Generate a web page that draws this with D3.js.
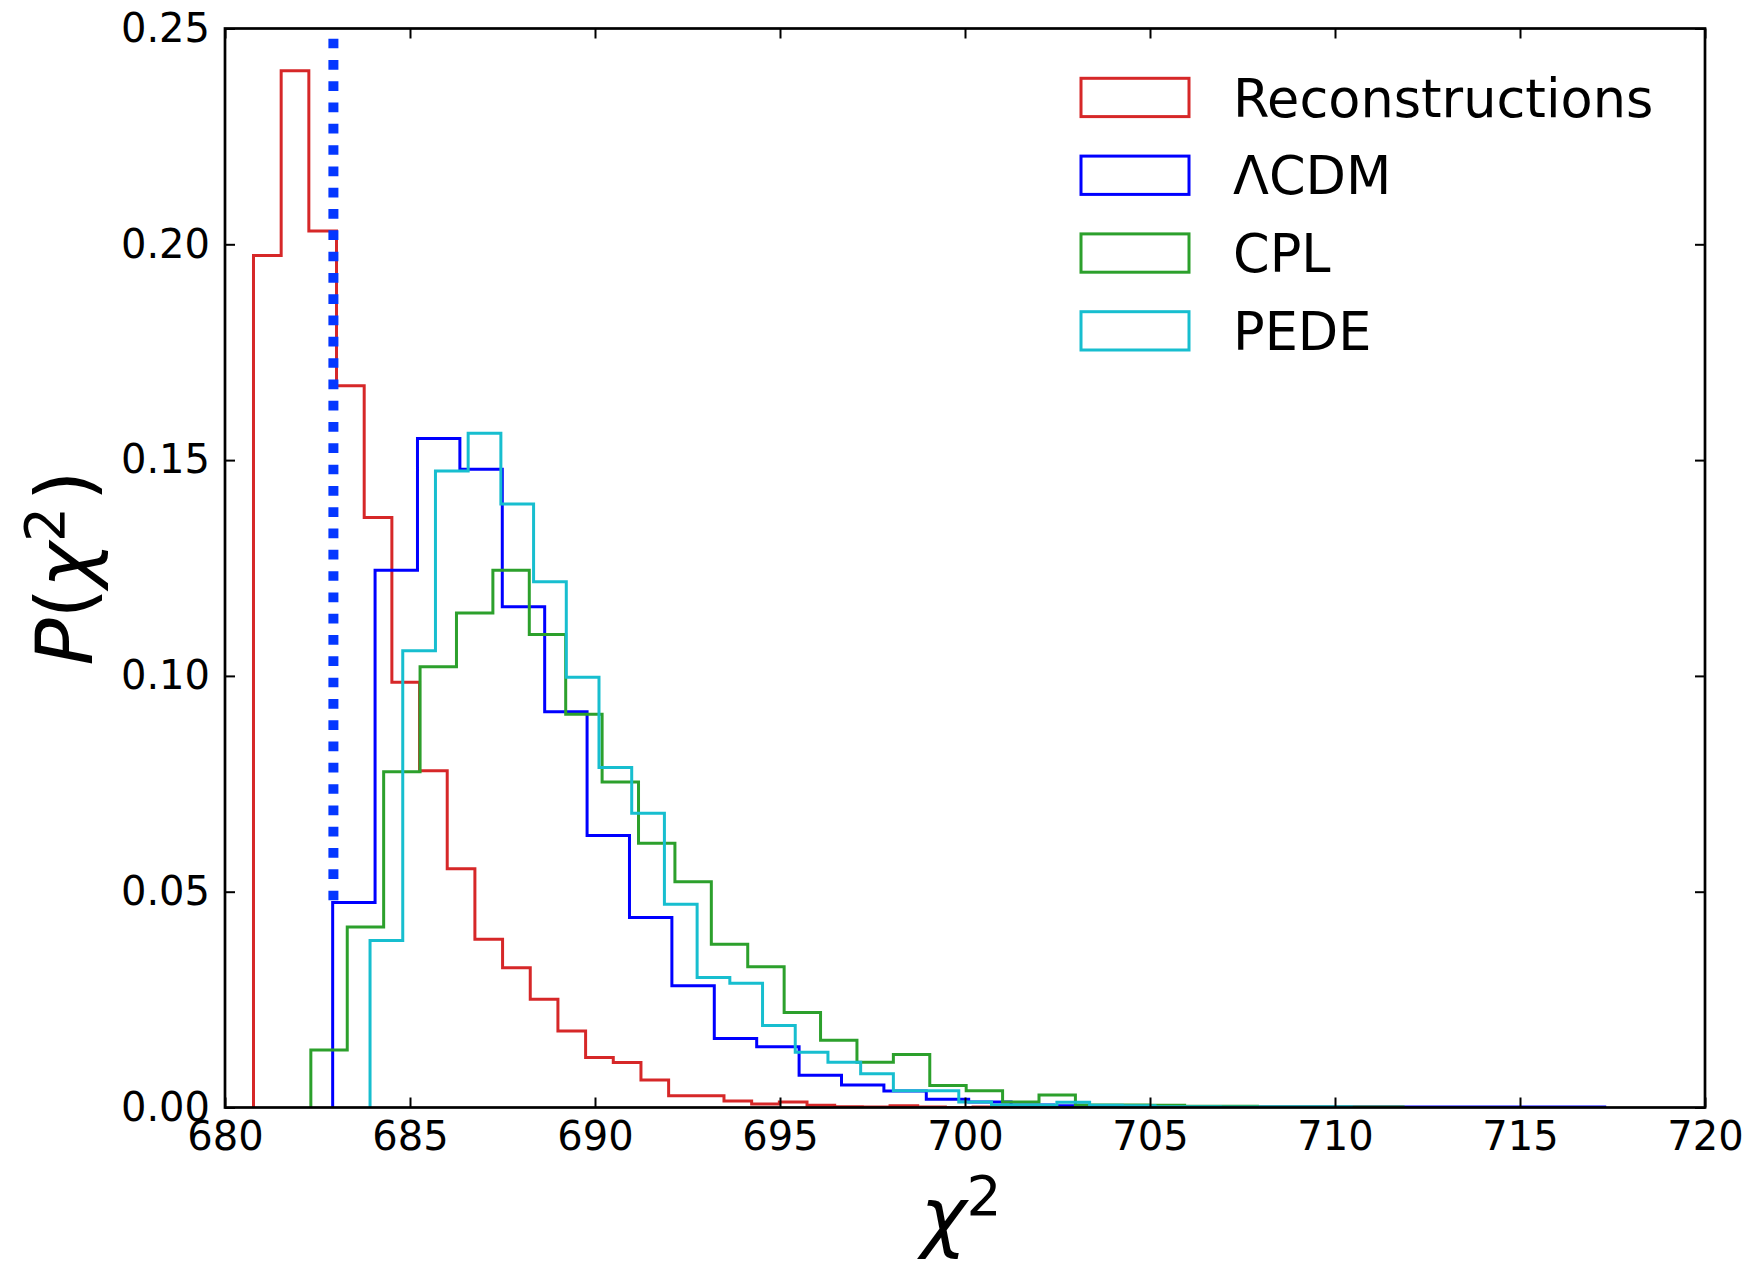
<!DOCTYPE html>
<html lang="en">
<head>
<meta charset="UTF-8">
<title>P(chi2) histograms</title>
<script src="https://d3js.org/d3.v7.min.js"></script>
<style>
  body { margin: 0; background: #fff; }
  svg { display: block; font-family: "DejaVu Sans", sans-serif; }
</style>
</head>
<body>
<svg id="chart" width="1750" height="1261"></svg>
<script>
// each histogram: left edge of the first bin, bin width, normalised counts
const reconStart = 680.77, reconWidth = 0.748;
const reconP = [0.1974, 0.2402, 0.2031, 0.1672, 0.1367, 0.0985, 0.0780, 0.0553, 0.0390, 0.0324,
                0.0251, 0.0177, 0.0116, 0.0104, 0.0064, 0.0027, 0.0027, 0.0015, 0.0008, 0.0013,
                0.0005, 0.0002, 0.0001, 0.0004, 0.0001, 0.0000, 0.0001, 0.0000, 0.0000, 0.0001];

const lcdmStart = 682.91, lcdmWidth = 1.146;
const lcdmP = [0.0475, 0.1245, 0.1550, 0.1479, 0.1160, 0.0917, 0.0630, 0.0440, 0.0282, 0.0160,
               0.0141, 0.0075, 0.0052, 0.0038, 0.0019, 0.0013, 0.0006, 0.0004, 0.0002, 0.0002,
               0.0001, 0.0001, 0.0001, 0.0001, 0.0001, 0.0001, 0.0001, 0.0001, 0.0001, 0.0001];

const cplStart = 682.32, cplWidth = 0.984;
const cplP = [0.0133, 0.0418, 0.0778, 0.1021, 0.1146, 0.1245, 0.1096, 0.0911, 0.0754, 0.0612,
              0.0523, 0.0378, 0.0326, 0.0220, 0.0156, 0.0105, 0.0123, 0.0051, 0.0039, 0.0013,
              0.0029, 0.0006, 0.0006, 0.0005, 0.0003, 0.0003, 0.0001, 0.0001, 0.0001, 0.0001];

const pedeStart = 683.92, pedeWidth = 0.884;
const pedeP = [0.0387, 0.1058, 0.1475, 0.1562, 0.1398, 0.1218, 0.0997, 0.0788, 0.0682, 0.0471,
               0.0301, 0.0288, 0.0190, 0.0128, 0.0105, 0.0078, 0.0039, 0.0039, 0.0013, 0.0006,
               0.0006, 0.0012, 0.0005, 0.0004, 0.0002, 0.0002, 0.0001, 0.0001, 0.0001, 0.0001];

const names = ["Reconstructions", "\u039BCDM", "CPL", "PEDE"];
const colors = ["#d62728", "#0000ff", "#2ca02c", "#17becf"];

// observed chi^2 marker
const obsChi2 = 682.93, obsLow = 0.048, obsHigh = 0.25;

const xTicks = [680, 685, 690, 695, 700, 705, 710, 715, 720];
const yTicks = [0, 0.05, 0.10, 0.15, 0.20, 0.25];

const hists = [
  {start: reconStart, width: reconWidth, p: reconP},
  {start: lcdmStart, width: lcdmWidth, p: lcdmP},
  {start: cplStart, width: cplWidth, p: cplP},
  {start: pedeStart, width: pedeWidth, p: pedeP}
];

const m = {left: 225, right: 1705, top: 28.5, bottom: 1107.5};
const x = d3.scaleLinear().domain([680, 720]).range([m.left, m.right]);
const y = d3.scaleLinear().domain([0, 0.25]).range([m.bottom, m.top]);

const svg = d3.select("#chart");

svg.append("defs").append("clipPath").attr("id", "plotclip")
  .append("rect")
    .attr("x", m.left).attr("y", m.top)
    .attr("width", m.right - m.left).attr("height", m.bottom - m.top);

// step outlines like histtype="step"
function stepPoints(h) {
  const pts = [[h.start, 0]];
  h.p.forEach((v, i) => {
    pts.push([h.start + i * h.width, v]);
    pts.push([h.start + (i + 1) * h.width, v]);
  });
  pts.push([h.start + h.p.length * h.width, 0]);
  return pts;
}

const line = d3.line().x(d => x(d[0])).y(d => y(d[1]));

const plot = svg.append("g").attr("clip-path", "url(#plotclip)");
hists.forEach((h, i) => {
  plot.append("path")
    .attr("d", line(stepPoints(h)))
    .attr("fill", "none")
    .attr("stroke", colors[i])
    .attr("stroke-width", 3)
    .attr("stroke-linejoin", "miter");
});

// dotted vertical line, dashes counted from the bottom end
svg.append("line")
  .attr("x1", x(obsChi2)).attr("x2", x(obsChi2))
  .attr("y1", y(obsLow)).attr("y2", y(obsHigh))
  .attr("stroke", "#0537ff")
  .attr("stroke-width", 10)
  .attr("stroke-dasharray", "9.7,11.6");

// axes, ticks pointing inward on all four sides
const fmtY = d3.format(".2f");
function styleAxis(g) {
  g.select(".domain").remove();
  g.selectAll(".tick line").attr("stroke", "#000").attr("stroke-width", 2);
  g.selectAll(".tick text").attr("fill", "#000").style("font-size", "40px")
    .style("font-family", "'DejaVu Sans', sans-serif");
}

svg.append("g").attr("transform", `translate(0,${m.bottom})`)
  .call(d3.axisBottom(x).tickValues(xTicks).tickFormat(d3.format("d"))
        .tickSizeInner(-10).tickSizeOuter(0).tickPadding(14.5))
  .call(styleAxis);

svg.append("g").attr("transform", `translate(${m.left},0)`)
  .call(d3.axisLeft(y).tickValues(yTicks).tickFormat(fmtY)
        .tickSizeInner(-10).tickSizeOuter(0).tickPadding(15))
  .call(styleAxis);

svg.append("g").attr("transform", `translate(0,${m.top})`)
  .call(d3.axisTop(x).tickValues(xTicks).tickFormat("")
        .tickSizeInner(-10).tickSizeOuter(0))
  .call(styleAxis);

svg.append("g").attr("transform", `translate(${m.right},0)`)
  .call(d3.axisRight(y).tickValues(yTicks).tickFormat("")
        .tickSizeInner(-10).tickSizeOuter(0))
  .call(styleAxis);

svg.append("rect")
  .attr("x", m.left).attr("y", m.top)
  .attr("width", m.right - m.left).attr("height", m.bottom - m.top)
  .attr("fill", "none").attr("stroke", "#000").attr("stroke-width", 2.7);

// axis labels
const xl = svg.append("text")
  .attr("x", (m.left + m.right) / 2 - 4).attr("y", 1243)
  .attr("text-anchor", "middle")
  .style("font-size", "78px");
xl.append("tspan").style("font-style", "italic").text("\u03C7");
xl.append("tspan").attr("dy", -28).style("font-size", "55px").text("2");

const yl = svg.append("text")
  .attr("transform", `translate(92,${(m.top + m.bottom) / 2}) rotate(-90)`)
  .attr("text-anchor", "middle")
  .style("font-size", "78px");
yl.append("tspan").style("font-style", "italic").text("P");
yl.append("tspan").text("(");
yl.append("tspan").style("font-style", "italic").text("\u03C7");
yl.append("tspan").attr("dy", -28).style("font-size", "55px").text("2");
yl.append("tspan").attr("dy", 28).attr("dx", 6).text(")");

// legend
const legend = svg.append("g").attr("transform", "translate(1081,78.3)");
names.forEach((n, i) => {
  const row = legend.append("g").attr("transform", `translate(0,${i * 77.8})`);
  row.append("rect")
    .attr("x", 0).attr("y", 0).attr("width", 108).attr("height", 38.3)
    .attr("fill", "none").attr("stroke", colors[i]).attr("stroke-width", 3);
  row.append("text")
    .attr("x", 152).attr("y", 38.3)
    .style("font-size", "52.5px")
    .text(n);
});
</script>
</body>
</html>
